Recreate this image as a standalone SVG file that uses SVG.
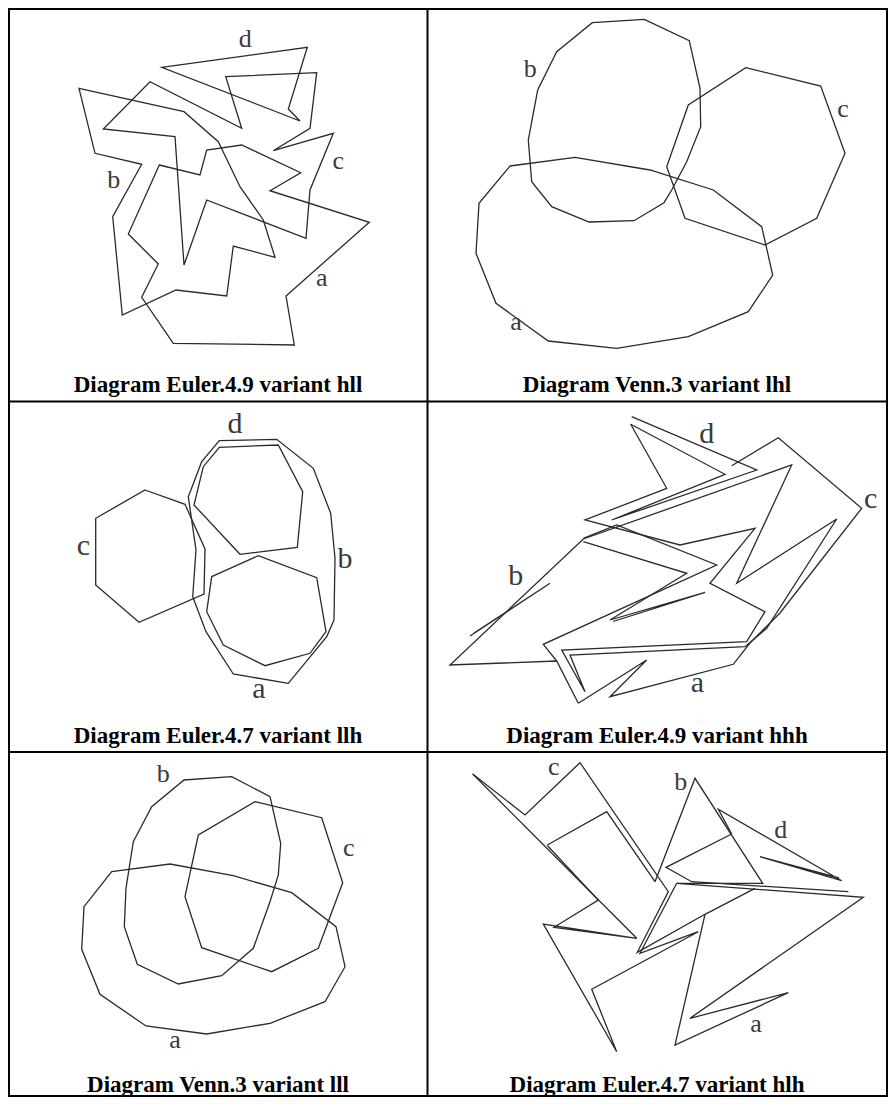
<svg xmlns="http://www.w3.org/2000/svg" width="896" height="1104" viewBox="0 0 896 1104">
<style>
.g{fill:none;stroke:#2a2a2a;stroke-width:1.3;stroke-linejoin:miter}
.l{font-family:"Liberation Serif",serif;font-size:26px;fill:#3a3a3a;text-anchor:middle}
.lb{font-size:30px}
.cap{font-family:"Liberation Serif",serif;font-weight:bold;font-size:23px;text-anchor:middle;fill:#000}
.grid{fill:none;stroke:#000;stroke-width:2}
</style>
<rect width="896" height="1104" fill="#fff"/>
<g id="table" class="grid">
<rect x="9" y="9" width="878" height="1087"/>
<line x1="427.5" y1="9" x2="427.5" y2="1096"/>
<line x1="9" y1="401.5" x2="887" y2="401.5"/>
<line x1="9" y1="752" x2="887" y2="752"/>
</g>
<g id="captions" class="cap">
<text x="218" y="391.5">Diagram Euler.4.9 variant hll</text>
<text x="657" y="391.5">Diagram Venn.3 variant lhl</text>
<text x="218" y="742.5">Diagram Euler.4.7 variant llh</text>
<text x="657" y="742.5">Diagram Euler.4.9 variant hhh</text>
<text x="218" y="1092">Diagram Venn.3 variant lll</text>
<text x="657" y="1092">Diagram Euler.4.7 variant hlh</text>
</g>
<g id="p1">
<polygon id="p1-d" class="g" points="161.7,67.3 307.3,47.3 288.3,109 300,121"/>
<polygon id="p1-c" class="g" points="225.7,76.7 316.7,72.7 310,128.3 273.3,150.7 333.3,133.3 310,190 306,238.3 206.7,200 184,265 175,136.7 103.3,129 150,81.7 241.7,128.3"/>
<polygon id="p1-b" class="g" points="79,88.3 184,111.7 218.3,141.7 240,186.7 263.3,220 275,257.3 233.3,246 226.7,296 176,290 122.3,315 112.7,216.7 141.7,164.3 95,153.3"/>
<polygon id="p1-a" class="g" points="159.3,165 200,175 206.7,150 241.7,145 300.7,172.7 270,190.7 369.3,222.3 286,296 294.3,345 173.3,343.3 141.7,297.3 158.3,264 128.3,234"/>
<text class="l" x="245.3" y="46.7">d</text>
<text class="l" x="338.3" y="169">c</text>
<text class="l" x="113.7" y="188.3">b</text>
<text class="l" x="321.7" y="286">a</text>
</g>
<g id="p2">
<polygon id="p2-b" class="g" points="592.3,22.7 644.3,19.3 689.3,40.7 700,88.3 700.7,126.7 686.7,161.7 671.7,190 664,202.7 634,220.7 589,222 551.7,206.7 531.7,181.7 528.3,140 537.7,90 556.7,51.7"/>
<polygon id="p2-c" class="g" points="745.7,67.7 820.7,86 845,153.3 816.7,218.3 765,245 685,218.3 666.7,166.7 688.3,105"/>
<polygon id="p2-a" class="g" points="510,166 575,157.3 650,170 713.3,190 761.7,226.7 772.7,275 748.3,311.7 688.3,336.7 616.7,348.3 548.3,341 496,303.3 476,253.3 479,203.3"/>
<text class="l" x="530.3" y="76.7">b</text>
<text class="l" x="843" y="117.3">c</text>
<text class="l" x="516" y="330">a</text>
</g>
<g id="p3">
<polygon id="p3-c" class="g" points="145,490 185,504.3 205,549 204,594 139,622.3 95.7,585 95.7,518.3"/>
<polygon id="p3-d" class="g" points="219.3,447.3 278.3,445 302.7,491.7 297.3,547.3 240,554.3 194,505 203.3,466.7"/>
<polygon id="p3-b" class="g" points="219.3,440.7 276.7,439.3 313.3,468.3 330.7,513.3 335,558.3 334,620 326.7,636.7 288.3,683.3 233.3,674 206,631.7 192.7,596.7 196,550 188.3,496.7 201.7,461.7"/>
<polygon id="p3-a" class="g" points="211.7,576.7 258.3,555.7 316.7,577.7 326,631.7 310,653.3 265,665.7 223.3,645 206.7,611.7"/>
<text class="l lb" x="235" y="433.3">d</text>
<text class="l lb" x="83.3" y="555">c</text>
<text class="l lb" x="345" y="567.7">b</text>
<text class="l lb" x="259" y="698.3">a</text>
</g>
<g id="p4" class="g">
<polyline id="p4-d" points="631.7,416.7 756.7,470 611.7,520 725,474.3 630.7,424.3"/>
<polyline points="630.7,424.3 666.7,488.3 585,520 680,545 755,528.3 710,583.3 765,611.7 746.7,641.7 561.7,650 585,691.7 570,655 745,646.7 766.7,628.3 836.7,519 736.7,583.3 791.7,465 583.3,539 450,665 556.7,661 578.3,703.3"/>
<polyline id="p4-c" points="578.3,703.3 646.7,660 610,696.7 733.3,664.3 750,643 780,613 861.7,508.3 778.3,437.7 731.7,465.7"/>
<polyline points="583.3,538.3 616.7,525 716.7,565 543.3,644.3 556.7,661"/>
<polyline points="583.3,541.7 686.7,573.3 610,620 705,592.3 613,621.5"/>
<polyline points="470,636 550,583.3 474,633"/>
</g>
<g id="p4-labels">
<text class="l lb" x="706.7" y="443.3">d</text>
<text class="l lb" x="870.7" y="508.3">c</text>
<text class="l lb" x="515.7" y="585">b</text>
<text class="l lb" x="697.3" y="691.7">a</text>
</g>
<g id="p5">
<polygon id="p5-b" class="g" points="184,780 231.7,776.7 270,796.7 280.7,843.3 278.3,875 270,901.7 253.3,948.3 221.7,975.7 178.3,984 137.3,964.3 124.3,926.7 126,888.3 133.3,841.7 151.7,806.7"/>
<polygon id="p5-c" class="g" points="255,801.7 321.7,817.7 342.7,882.7 318.3,948.3 271.7,971.7 201.7,947.7 185,896.7 198.3,835"/>
<polygon id="p5-a" class="g" points="111.7,871.7 170,864 233.3,875.7 291.7,892.7 336,926.7 345,966.7 325,1001.7 270,1023.3 206.7,1034 146,1026 100,994.3 81.7,949.3 84,906.7"/>
<text class="l" x="163.3" y="781.7">b</text>
<text class="l" x="348.7" y="855.7">c</text>
<text class="l" x="175" y="1048.3">a</text>
</g>
<g id="p6" class="g">
<polyline id="p6-c" points="472.7,774 525,815 580,762.7 668.3,891.7 637.3,952.3 705,914.3"/>
<polyline points="472.7,774 636.7,938.3"/>
<polyline points="547.3,845 606.7,811.7 655,881.7"/>
<polyline points="547.3,845.5 598.3,900 554,927.3 636.7,938.3 543.3,924 616.7,1051.7 591.7,989.3 698.3,931.7 640,953.3 676.7,883.3"/>
<polyline id="p6-b" points="655,881.7 695,778.3 762.7,883.3 676.7,883.3"/>
<polyline points="755,888.3 705,914.3"/>
<polyline points="731.7,834 666,867.3 691.7,881.7 848.3,891.7"/>
<polyline id="p6-d" points="731.7,834 718.3,809.3 841.7,880.7 760,856.7 839,878"/>
<polyline id="p6-a" points="676.7,883.3 863.3,897.3 690,1018.3 788.3,992.7 675,1045 705,914.3"/>
</g>
<g id="p6-labels">
<text class="l" x="553.7" y="775">c</text>
<text class="l" x="680.7" y="790">b</text>
<text class="l" x="780.7" y="838.3">d</text>
<text class="l" x="756" y="1031.7">a</text>
</g>
</svg>
